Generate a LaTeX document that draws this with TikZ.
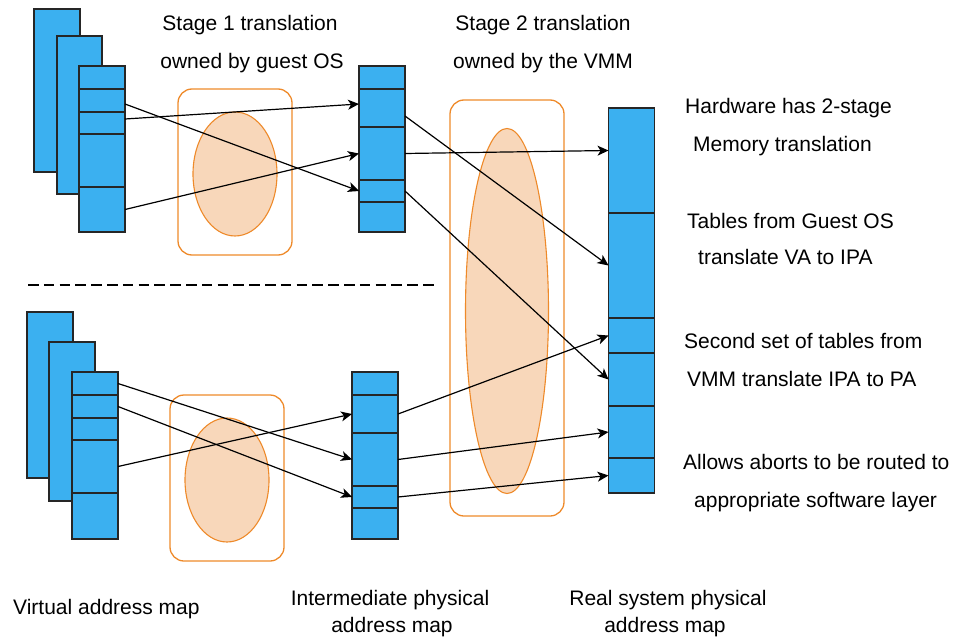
\documentclass[tikz,border=0pt]{standalone}
\usepackage{fontspec}
\setmainfont{Liberation Sans}
\usetikzlibrary{positioning,arrows.meta}
\definecolor{tblue}{HTML}{3BB0F0}
\definecolor{torange}{HTML}{EE8A2A}
\definecolor{tpeach}{HTML}{F8D7BA}
\tikzset{
  seg/.style={draw=black!85, fill=tblue, line width=1.3pt, minimum width=46pt,
    inner sep=0pt, outer sep=0pt},
  page/.style={draw=black!85, fill=tblue, line width=1.3pt},
  zone/.style={draw=torange, line width=1.3pt, rounded corners=14pt},
  blob/.style={draw=torange, fill=tpeach, line width=1.1pt},
  arr/.style={-{Stealth[length=11pt,width=10pt,inset=3pt]}, line width=1.2pt},
  lbl/.style={font=\fontsize{21}{25}\selectfont, inner sep=0pt}
}
\begin{document}
\begin{tikzpicture}[x=1pt,y=-1pt]
    \useasboundingbox (0,0) rectangle (971,639);
    % translation regions
    \draw[zone] (178,89) rectangle (292,255);
    \draw[blob] (235,174) ellipse [x radius=42, y radius=62];
    \draw[zone] (170,395) rectangle (284,561);
    \draw[blob] (227,480) ellipse [x radius=42, y radius=62];
    \draw[zone] (450,100) rectangle (564,516);
    \draw[blob] (507,311) ellipse [x radius=41.5, y radius=182.5];
    \draw[dash pattern=on 10.5pt off 5.3pt, line width=1.3pt] (28,285) -- (436,285);
    % virtual address maps
    \draw[page] (34,9) rectangle (80,172);
    \draw[page] (57,36) rectangle (102,194);
    \draw[page] (27,312) rectangle (73,478);
    \draw[page] (49,342) rectangle (95,501);
    \coordinate (vt0) at (102,66);
    \foreach \h/\n [remember=\n as \p (initially vt0)] in {23/vt1,23/vt2,22/vt3,53/vt4,45/vt5}
      \node[seg, minimum height=\h pt, below=0pt of \p] (\n) {};
    \coordinate (vb0) at (95,372);
    \foreach \h/\n [remember=\n as \p (initially vb0)] in {23/vb1,23/vb2,22/vb3,53/vb4,46/vb5}
      \node[seg, minimum height=\h pt, below=0pt of \p] (\n) {};
    % intermediate physical address maps
    \coordinate (it0) at (382,66);
    \foreach \h/\n [remember=\n as \p (initially it0)] in {23/it1,38/it2,53/it3,22/it4,30/it5}
      \node[seg, minimum height=\h pt, below=0pt of \p] (\n) {};
    \coordinate (ib0) at (375,372);
    \foreach \h/\n [remember=\n as \p (initially ib0)] in {23/ib1,38/ib2,53/ib3,22/ib4,31/ib5}
      \node[seg, minimum height=\h pt, below=0pt of \p] (\n) {};
    % real physical address map
    \coordinate (pa0) at (631.5,108);
    \foreach \h/\n [remember=\n as \p (initially pa0)] in {105/pa1,105/pa2,35/pa3,53/pa4,52/pa5,35/pa6}
      \node[seg, minimum height=\h pt, below=0pt of \p] (\n) {};
    % stage 1
    \draw[arr] ([yshift=-3.5pt]vt2.east) -- (it4.west);
    \draw[arr] ([yshift=4pt]vt3.east) -- ([yshift=4pt]it2.west);
    \draw[arr] (vt5.east) -- (it3.west);
    \draw[arr] (vb1.east) -- (ib3.west);
    \draw[arr] (vb2.east) -- (ib4.west);
    \draw[arr] (vb4.east) -- (ib2.west);
    % stage 2
    \draw[arr] ([yshift=-8pt]it2.east) -- (pa2.west);
    \draw[arr] (it3.east) -- ([yshift=10pt]pa1.west);
    \draw[arr] (it4.east) -- (pa4.west);
    \draw[arr] (ib2.east) -- (pa3.west);
    \draw[arr] (ib3.east) -- (pa5.west);
    \draw[arr] (ib4.east) -- (pa6.west);
    % labels
    \node[lbl, anchor=base] (st1a) at (250,31) {Stage 1 translation};
    \node[lbl, anchor=base] (st1b) at (252,69) {owned by guest OS};
    \node[lbl, anchor=base] (st2a) at (543,31) {Stage 2 translation};
    \node[lbl, anchor=base] (st2b) at (543,69) {owned by the VMM};
    \node[lbl, anchor=base west] (n1a) at (685,114) {Hardware has 2-stage};
    \node[lbl, anchor=base west] (n1b) at (693,152) {Memory translation};
    \node[lbl, anchor=base west] (n2a) at (687,228) {Tables from Guest OS};
    \node[lbl, anchor=base west] (n2b) at (698,264) {translate VA to IPA};
    \node[lbl, anchor=base west] (n3a) at (684,348) {Second set of tables from};
    \node[lbl, anchor=base west] (n3b) at (687,386) {VMM translate IPA to PA};
    \begin{scope}
      \clip (660,440) rectangle (951,480);
      \node[lbl, anchor=base west] (n4a) at (683,469) {Allows aborts to be routed to};
    \end{scope}
    \node[lbl, anchor=base west] (n4b) at (694,507) {appropriate software layer};
    \node[lbl, anchor=base west] (vam) at (13,614) {Virtual address map};
    \node[lbl, anchor=base] (ipa1) at (390,605) {Intermediate physical};
    \node[lbl, anchor=base] (ipa2) at (392,632) {address map};
    \node[lbl, anchor=base] (rpa1) at (668,605) {Real system physical};
    \node[lbl, anchor=base] (rpa2) at (665,632) {address map};
\end{tikzpicture}
\end{document}
